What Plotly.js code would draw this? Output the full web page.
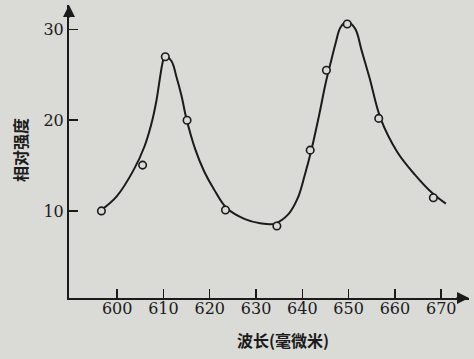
<!DOCTYPE html>
<html>
<head>
<meta charset="utf-8">
<script src="https://cdn.plot.ly/plotly-3.0.1.min.js"></script>
<style>
html,body{margin:0;padding:0;background:#dadad7;}
#chart{width:474px;height:359px;}
</style>
</head>
<body>
<div id="chart"></div>
<script>
// Measured points (open circles)
const pointWavelength = [596.6, 605.5, 610.4, 615.1, 623.4, 634.5, 641.7, 645.2, 649.7, 656.5, 668.3];
const pointIntensity  = [10.0, 15.05, 27.0, 20.0, 10.1, 8.33, 16.7, 25.5, 30.6, 20.2, 11.45];

// Hand-drawn smooth curve
const curveWavelength = [596.85, 599.9, 603.6, 605.9, 607.4, 608.5, 609.2, 609.8, 610.3, 611.75, 612.8, 613.9, 614.9, 616.8, 618.8, 620.9, 623.6, 627.6, 630.9, 634.0, 637.0, 639.0, 640.5, 641.9, 643.6, 645.0, 646.1, 647.2, 648.2, 649.6, 651.4, 652.8, 654.5, 656.9, 660.5, 664.3, 668.0, 671.0];
const curveIntensity  = [10.2, 11.6, 14.55, 17.1, 19.6, 22.2, 24.5, 26.3, 27.1, 26.5, 24.8, 22.7, 20.3, 16.9, 14.35, 12.4, 10.35, 9.1, 8.65, 8.6, 9.65, 11.4, 13.9, 16.6, 20.5, 24.0, 26.3, 28.5, 30.2, 30.85, 30.1, 27.7, 24.7, 20.2, 16.5, 14.0, 12.0, 10.8];

const xTicks = [600, 610, 620, 630, 640, 650, 660, 670];
const yTicks = [10, 20, 30];

const ink = '#1b1b1b';
const bg = '#dadad7';

const traces = [
  {
    x: curveWavelength, y: curveIntensity,
    mode: 'lines', type: 'scatter',
    line: {color: ink, width: 2, shape: 'spline', smoothing: 1},
    hoverinfo: 'skip'
  },
  {
    x: pointWavelength, y: pointIntensity,
    mode: 'markers', type: 'scatter',
    marker: {symbol: 'circle', size: 7.5, color: bg, line: {color: ink, width: 1.6}}
  }
];

const layout = {
  width: 474, height: 359,
  margin: {l: 69, r: 5, t: 5, b: 61},
  paper_bgcolor: bg, plot_bgcolor: bg,
  showlegend: false,
  font: {family: 'DejaVu Serif', color: ink, size: 16},
  xaxis: {
    range: [589.6, 676], tickvals: xTicks, ticktext: xTicks.map(String),
    ticks: 'inside', ticklen: 9, tickwidth: 1.5, tickcolor: ink,
    ticklabelstandoff: -5,
    showline: true, linecolor: ink, linewidth: 2,
    showgrid: false, zeroline: false,
    tickfont: {family: 'DejaVu Serif', size: 16, color: ink}
  },
  yaxis: {
    range: [0.4, 32.7], tickvals: yTicks, ticktext: yTicks.map(String),
    ticks: 'inside', ticklen: 9, tickwidth: 1.5, tickcolor: ink,
    showline: true, linecolor: ink, linewidth: 2,
    showgrid: false, zeroline: false,
    tickfont: {family: 'DejaVu Serif', size: 16, color: ink}
  },
  annotations: [
    {text: '波长(毫微米)', xref: 'paper', yref: 'paper', x: (283-69)/400, y: -(340-298)/293,
     showarrow: false, xanchor: 'center', yanchor: 'middle',
     font: {family: 'Noto Sans CJK SC', size: 16, color: ink, weight: 'bold'}},
    {text: '相对强度', xref: 'paper', yref: 'paper', x: -(69-20)/400, y: (298-150)/293,
     showarrow: false, xanchor: 'center', yanchor: 'middle', textangle: -90,
     font: {family: 'Noto Sans CJK SC', size: 16, color: ink, weight: 'bold'}},
    {text: '', xref: 'paper', yref: 'paper', x: 0, y: 1, ax: 0, ay: 14,
     showarrow: true, arrowhead: 2, arrowsize: 1.2, arrowwidth: 2, arrowcolor: ink},
    {text: '', xref: 'paper', yref: 'paper', x: 1, y: 0, ax: -14, ay: 0,
     showarrow: true, arrowhead: 2, arrowsize: 1.2, arrowwidth: 2, arrowcolor: ink}
  ]
};

Plotly.newPlot('chart', traces, layout, {displayModeBar: false, staticPlot: true});
</script>
</body>
</html>
